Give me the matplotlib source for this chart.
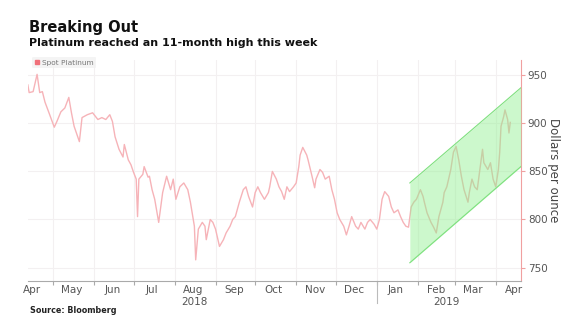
import numpy as np
import pandas as pd
import matplotlib
matplotlib.use('Agg')
import matplotlib.pyplot as plt
import matplotlib.dates as mdates

# Spot platinum (USD per ounce)
dates = ['2018-04-12', '2018-04-13', '2018-04-16', '2018-04-19', '2018-04-21', '2018-04-23',
         '2018-04-25', '2018-04-28', '2018-05-02', '2018-05-04', '2018-05-07', '2018-05-10',
         '2018-05-13', '2018-05-15', '2018-05-17', '2018-05-20', '2018-05-21', '2018-05-23',
         '2018-05-27', '2018-05-31', '2018-06-04', '2018-06-07', '2018-06-10', '2018-06-13',
         '2018-06-15', '2018-06-17', '2018-06-20', '2018-06-23', '2018-06-24', '2018-06-27',
         '2018-06-29', '2018-07-01', '2018-07-03', '2018-07-04', '2018-07-05', '2018-07-08',
         '2018-07-09', '2018-07-12', '2018-07-13', '2018-07-15', '2018-07-17', '2018-07-20',
         '2018-07-23', '2018-07-26', '2018-07-29', '2018-07-31', '2018-08-02', '2018-08-05',
         '2018-08-08', '2018-08-11', '2018-08-13', '2018-08-16', '2018-08-17', '2018-08-19',
         '2018-08-22', '2018-08-24', '2018-08-25', '2018-08-28', '2018-08-30', '2018-09-01',
         '2018-09-04', '2018-09-07', '2018-09-09', '2018-09-12', '2018-09-14', '2018-09-16',
         '2018-09-19', '2018-09-22', '2018-09-24', '2018-09-26', '2018-09-29', '2018-10-01',
         '2018-10-03', '2018-10-05', '2018-10-08', '2018-10-11', '2018-10-12', '2018-10-14',
         '2018-10-17', '2018-10-19', '2018-10-21', '2018-10-23', '2018-10-25', '2018-10-27',
         '2018-10-30', '2018-11-01', '2018-11-03', '2018-11-04', '2018-11-06', '2018-11-09',
         '2018-11-10', '2018-11-13', '2018-11-15', '2018-11-16', '2018-11-19', '2018-11-21',
         '2018-11-23', '2018-11-26', '2018-11-28', '2018-11-30', '2018-12-02', '2018-12-04',
         '2018-12-07', '2018-12-09', '2018-12-11', '2018-12-13', '2018-12-16', '2018-12-18',
         '2018-12-20', '2018-12-23', '2018-12-25', '2018-12-27', '2018-12-30', '2019-01-01',
         '2019-01-03', '2019-01-05', '2019-01-07', '2019-01-10', '2019-01-12', '2019-01-14',
         '2019-01-17', '2019-01-19', '2019-01-21', '2019-01-23', '2019-01-25', '2019-01-27',
         '2019-01-29', '2019-01-31', '2019-02-03', '2019-02-05', '2019-02-06', '2019-02-08',
         '2019-02-11', '2019-02-13', '2019-02-15', '2019-02-17', '2019-02-20', '2019-02-21',
         '2019-02-23', '2019-02-26', '2019-02-28', '2019-03-02', '2019-03-04', '2019-03-06',
         '2019-03-08', '2019-03-11', '2019-03-12', '2019-03-14', '2019-03-16', '2019-03-18',
         '2019-03-21', '2019-03-22', '2019-03-23', '2019-03-26', '2019-03-28', '2019-03-30',
         '2019-04-01', '2019-04-03', '2019-04-04', '2019-04-05', '2019-04-07', '2019-04-08',
         '2019-04-10', '2019-04-11', '2019-04-12']
price = [940, 932, 933, 951, 932, 933,
         922, 911, 896, 902, 912, 916,
         927, 911, 897, 885, 881, 906,
         909, 911, 904, 906, 904, 909,
         902, 886, 873, 865, 878, 862,
         857, 849, 842, 803, 842, 847,
         855, 844, 845, 831, 821, 797,
         828, 845, 831, 842, 821, 834,
         838, 831, 818, 793, 758, 790,
         797, 793, 779, 800, 797, 790,
         772, 779, 786, 793, 800, 803,
         818, 831, 834, 824, 813, 828,
         834, 828, 821, 828, 834, 850,
         842, 834, 829, 821, 834, 829,
         834, 838, 855, 867, 875, 867,
         862, 845, 833, 842, 852, 849,
         842, 845, 831, 821, 807, 800,
         793, 784, 793, 803, 793, 790,
         797, 790, 797, 800, 795, 790,
         800, 821, 829, 824, 813, 807,
         810, 803, 797, 793, 792, 813,
         818, 821, 831, 824, 818, 807,
         797, 792, 786, 803, 818, 828,
         834, 852, 870, 876, 862, 845,
         831, 818, 828, 842, 834, 831,
         862, 873, 859, 852, 859, 842,
         834, 852, 870, 897, 907, 914,
         904, 890, 901]

# rising channel (start / end dates, upper and lower bounds)
chan_dates = ['2019-01-26', '2019-04-20']
chan_top = [838, 937]
chan_bot = [755, 855]

xmin, xmax = '2018-04-12', '2019-04-20'
yticks = [750, 800, 850, 900, 950]

dt = pd.to_datetime(dates)
cd = pd.to_datetime(chan_dates)

fig = plt.figure(figsize=(5.68, 3.31), dpi=100)
ax = fig.add_axes([0.049, 0.151, 0.868, 0.668])

ax.plot(dt, price, color='#f6b3b8', lw=1.0, zorder=2)
ax.fill_between(cd, chan_bot, chan_top, color='#8ef08e', alpha=0.45, lw=0, zorder=3)
ax.plot(cd, chan_top, color='#7ee07e', lw=0.8, zorder=3)
ax.plot(cd, chan_bot, color='#7ee07e', lw=0.8, zorder=3)

ax.set_xlim(pd.Timestamp(xmin), pd.Timestamp(xmax))
ax.set_ylim(736, 966)

# right-hand y axis
ax.yaxis.tick_right()
ax.yaxis.set_label_position('right')
ax.set_yticks(yticks)
ax.tick_params(axis='y', length=3, color='#f0a0a0', labelsize=7.5, labelcolor='#555555', pad=2)
ax.set_ylabel('Dollars per ounce', rotation=-90, labelpad=9, fontsize=8.5, color='#444444')

# months: ticks at month starts, labels mid-month
ax.xaxis.set_major_locator(mdates.MonthLocator())
ax.xaxis.set_major_formatter(plt.NullFormatter())
ax.xaxis.set_minor_locator(mdates.MonthLocator(bymonthday=15))
ax.xaxis.set_minor_formatter(mdates.DateFormatter('%b'))
ax.tick_params(axis='x', which='major', length=3, color='#aaaaaa')
ax.tick_params(axis='x', which='minor', length=0, labelsize=7.5, labelcolor='#555555', pad=3)

ax.grid(True, which='major', color='#f3f0f1', lw=0.8)
ax.set_axisbelow(True)

for s in ['top', 'left']:
    ax.spines[s].set_visible(False)
ax.spines['right'].set_color('#f0a0a0')
ax.spines['bottom'].set_color('#aaaaaa')

# year labels and divider
ax.text(pd.Timestamp('2018-08-16'), -0.094, '2018', transform=ax.get_xaxis_transform(),
        ha='center', va='center', fontsize=7.5, color='#555555')
ax.text(pd.Timestamp('2019-02-23'), -0.094, '2019', transform=ax.get_xaxis_transform(),
        ha='center', va='center', fontsize=7.5, color='#555555')
ax.plot([pd.Timestamp('2019-01-01')] * 2, [0, -0.1], transform=ax.get_xaxis_transform(),
        color='#bbbbbb', lw=0.8, clip_on=False)

# legend
leg = ax.legend([plt.Rectangle((0, 0), 1, 1, color='#f0707a')], ['Spot Platinum'],
                loc='upper left', bbox_to_anchor=(0.002, 1.03), fontsize=5.3, frameon=True,
                handlelength=0.6, handleheight=0.6, handletextpad=0.3, borderpad=0.35)
leg.get_frame().set_facecolor('#f2f2f2')
leg.get_frame().set_edgecolor('none')
for t in leg.get_texts():
    t.set_color('#777777')

fig.text(0.051, 0.918, 'Breaking Out', fontsize=10.5, fontweight='bold', color='#111111', va='center')
fig.text(0.051, 0.869, 'Platinum reached an 11-month high this week', fontsize=8,
         fontweight='bold', color='#111111', va='center')
fig.text(0.053, 0.063, 'Source: Bloomberg', fontsize=5.8, fontweight='bold', color='#222222', va='center')

fig.savefig('out.png', dpi=100)
